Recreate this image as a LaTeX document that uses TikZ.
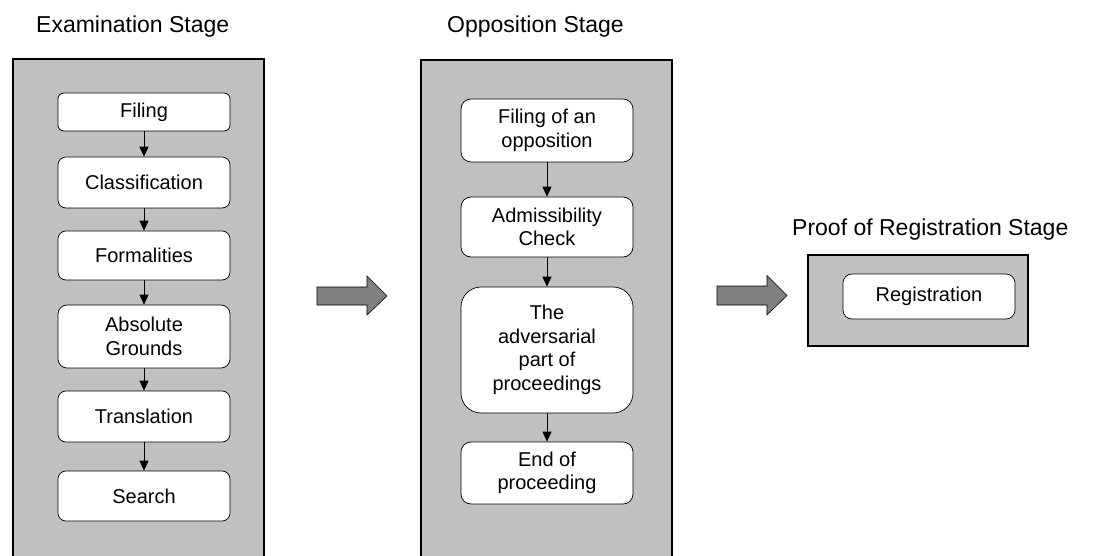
\documentclass[tikz,border=0pt]{standalone}
\usepackage{fontspec}
\setmainfont{Liberation Sans}
\usetikzlibrary{arrows.meta}
\definecolor{stagegray}{HTML}{C0C0C0}
\definecolor{arrowgray}{HTML}{808080}
\begin{document}
\begin{tikzpicture}[x=1pt,y=-1pt,
  stagebox/.style={draw=black, line width=1.4pt, fill=stagegray},
  stepbox/.style={draw=black, line width=0.7pt, fill=white, rounded corners=#1,
    minimum width=172pt, inner sep=2pt, align=center,
    font=\fontsize{20}{23.5}\selectfont},
  stepbox/.default=7pt,
  title/.style={anchor=base west, inner sep=0pt, font=\fontsize{23}{27}\selectfont},
  conn/.style={draw=black, line width=0.9pt, -{Triangle[width=9pt,length=10pt]}},
  blockarrow/.style={draw=black, line width=0.6pt, fill=arrowgray}
]
\useasboundingbox (0,0) rectangle (1095,556);

% stage frames
\path[stagebox] (13,59) rectangle (264,575);
\path[stagebox] (421,60) rectangle (672,575);
\path[stagebox] (808,255) rectangle (1028,346);

% titles
\node[title] (t1) at (36,33) {Examination Stage};
\node[title] (t2) at (447,33) {Opposition Stage};
\node[title] (t3) at (792,236) {Proof of Registration Stage};

% examination steps
\node[stepbox=6pt, minimum height=38pt] (filing) at (144,112) {Filing};
\node[stepbox=8pt, minimum height=51pt] (class) at (144,182.5) {Classification};
\node[stepbox=8pt, minimum height=49pt] (form) at (144,255.5) {Formalities};
\node[stepbox=9pt, minimum height=63pt] (abs) at (144,336.5) {Absolute\\Grounds};
\node[stepbox=8pt, minimum height=51pt] (trans) at (144,416.5) {Translation};
\node[stepbox=8pt, minimum height=50pt] (search) at (144,496) {Search};

\draw[conn] (filing) -- (class);
\draw[conn] (class) -- (form);
\draw[conn] (form) -- (abs);
\draw[conn] (abs) -- (trans);
\draw[conn] (trans) -- (search);

% opposition steps
\node[stepbox=10pt, minimum height=63pt] (fopp) at (547,130.5) {Filing of an\\opposition};
\node[stepbox=10pt, minimum height=60pt] (adm) at (547,227) {Admissibility\\Check};
\node[stepbox=20pt, minimum height=126pt] (adv) at (547,350) {The\\adversarial\\part of\\proceedings};
\node[stepbox=10pt, minimum height=62pt] (end) at (547,473) {End of\\proceeding};

\draw[conn] (fopp) -- (adm);
\draw[conn] (adm) -- (adv);
\draw[conn] (adv) -- (end);

% registration
\node[stepbox=9pt, minimum height=45pt] (reg) at (929,296.5) {Registration};

% block arrows
\path[blockarrow] (317,287) -- (367,287) -- (367,276) -- (387,296) -- (367,315) -- (367,305) -- (317,305) -- cycle;
\path[blockarrow] (717,286) -- (767,286) -- (767,275.5) -- (787,295.5) -- (767,315) -- (767,305) -- (717,305) -- cycle;
\end{tikzpicture}
\end{document}
